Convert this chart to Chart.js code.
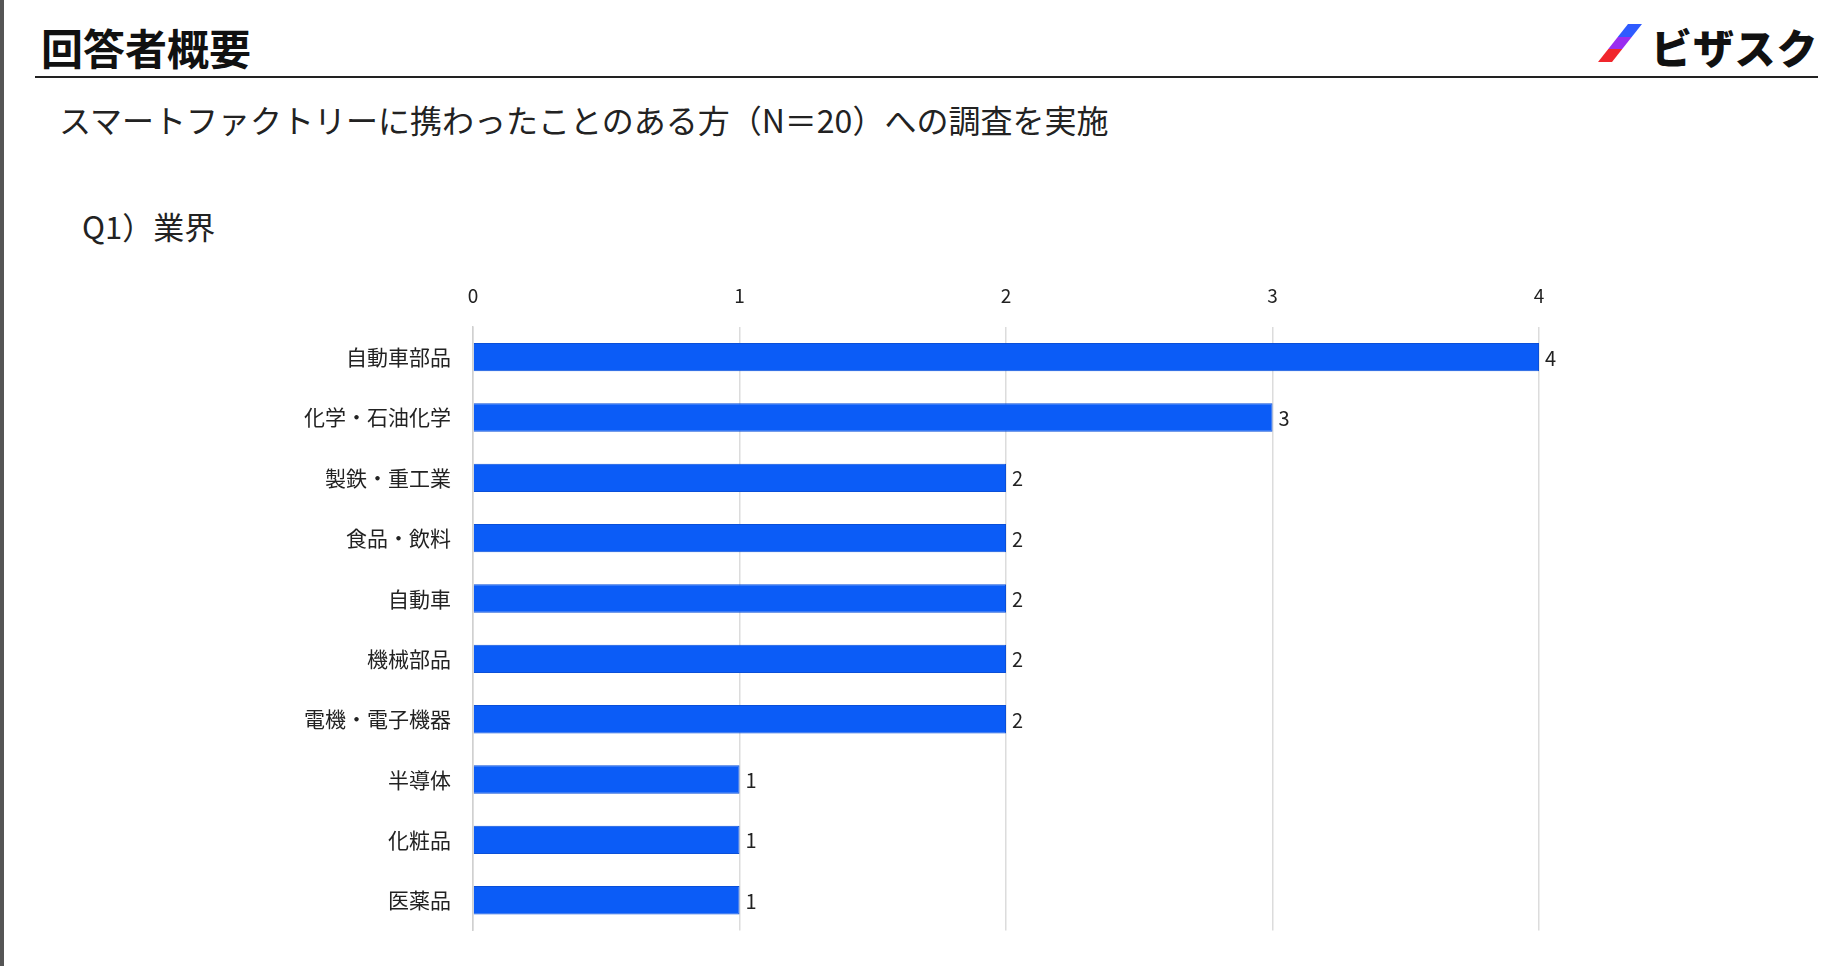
<!DOCTYPE html>
<html><head><meta charset="utf-8">
<script src="https://cdn.jsdelivr.net/npm/chart.js@4"></script>
<style>
body{margin:0;width:1836px;height:966px;background:#fff;position:relative;overflow:hidden;font-family:"Noto Sans CJK JP","Noto Sans",sans-serif;}
#lb{position:absolute;left:0;top:0;width:4px;height:966px;background:#555;}
#title{position:absolute;left:41px;top:16px;font-size:42px;font-weight:700;color:#111;}
#rule{position:absolute;left:35px;top:76px;width:1783px;height:2px;background:#222;}
#logo{position:absolute;left:1598px;top:18px;height:50px;}
#slash{position:absolute;left:0;top:6px;width:44px;height:38px;}
#logotext{position:absolute;left:53px;top:-2px;font-size:41px;font-weight:900;color:#111;white-space:nowrap;letter-spacing:1px;}
#sub{position:absolute;left:59px;top:96px;font-size:32px;color:#222;}
#q{position:absolute;left:82px;top:203px;font-size:31px;color:#222;}
#wrap{position:absolute;left:0;top:280px;width:1836px;height:677px;}
</style></head><body>
<div id="lb"></div>
<div id="title">回答者概要</div>
<div id="rule"></div>
<div id="logo"><svg id="slash" viewBox="0 0 44 38"><defs><linearGradient id="g" x1="0" y1="0" x2="0" y2="1"><stop offset="0" stop-color="#2f5bff"/><stop offset="0.33" stop-color="#2f5bff"/><stop offset="0.33" stop-color="#9a2cf0"/><stop offset="0.66" stop-color="#9a2cf0"/><stop offset="0.66" stop-color="#f0262c"/><stop offset="1" stop-color="#f0262c"/></linearGradient></defs><polygon points="30,0 44,0 14,38 0,38" fill="url(#g)"/></svg><div id="logotext">ビザスク</div></div>
<div id="sub">スマートファクトリーに携わったことのある方（N＝20）への調査を実施</div>
<div id="q">Q1）業界</div>
<div id="wrap"><canvas id="c"></canvas></div>
<script>
const categories=["自動車部品","化学・石油化学","製鉄・重工業","食品・飲料","自動車","機械部品","電機・電子機器","半導体","化粧品","医薬品"];
const counts=[4,3,2,2,2,2,2,1,1,1];
const xTicks=[0,1,2,3,4];
const barColor="#0b5cf7";
const labelPlugin={id:"vals",afterDatasetsDraw(chart){const ctx=chart.ctx;const meta=chart.getDatasetMeta(0);ctx.save();ctx.font="20px 'Noto Sans CJK JP'";ctx.fillStyle="#222";ctx.textBaseline="middle";meta.data.forEach((b,i)=>{ctx.fillText(String(counts[i]),b.x+6,b.y+1);});ctx.restore();}};
new Chart(document.getElementById("c"),{type:"bar",
data:{labels:categories,datasets:[{data:counts,backgroundColor:barColor,borderColor:"#0a4fd8",borderWidth:1,barPercentage:0.47,categoryPercentage:1}]},
options:{indexAxis:"y",responsive:true,maintainAspectRatio:false,animation:false,
layout:{padding:{right:297,bottom:2,top:0}},
plugins:{legend:{display:false},tooltip:{enabled:false}},
scales:{
x:{position:"top",min:0,max:4,afterBuildTicks(a){a.ticks=xTicks.map(v=>({value:v}));},
ticks:{color:"#222",font:{size:19,family:"Noto Sans CJK JP"},padding:20},
grid:{color:"#dcdcdc",drawTicks:false,lineWidth:1.5},border:{display:false},
afterFit(a){a.height=47;}},
y:{ticks:{color:"#222",font:{size:21,family:"Noto Sans CJK JP"},padding:14},
grid:{display:false},border:{color:"#d0d0d0",width:1.5},
afterFit(a){a.width=473;}}
}},plugins:[labelPlugin]});
</script></body></html>
